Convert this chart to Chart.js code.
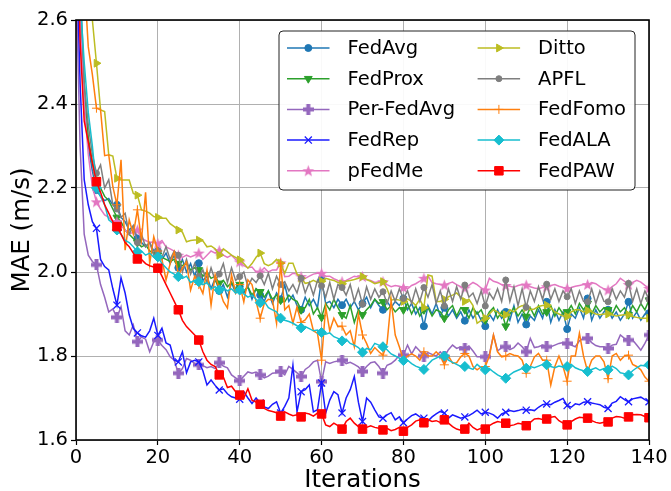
<!DOCTYPE html>
<html>
<head>
<meta charset="utf-8">
<script src="https://cdn.jsdelivr.net/npm/chart.js@4.4.1/dist/chart.umd.min.js"></script>
<style>
  html, body { margin: 0; padding: 0; background: #fff; }
</style>
</head>
<body>
<canvas id="myChart" width="671" height="491"></canvas>
<script>
const iterations = Array.from({ length: 141 }, (_, i) => i);
const xTicks = [0, 20, 40, 60, 80, 100, 120, 140];
const yTicks = [1.6, 1.8, 2.0, 2.2, 2.4, 2.6];

const fedAvg = [2.95,2.6,2.4,2.3,2.24,2.195,2.18,2.17,2.175,2.16,2.16,2.13,2.12,2.1,2.11,2.08,2.07,2.06,2.07,2.05,
  2.05,2.03,2.045,2.02,2.04,2.01,2.03,2.0,2.02,1.99,2.021,1.98,1.99,1.96,1.985,1.955,1.97,1.94,1.975,1.95,
  1.965,1.95,1.965,1.935,1.96,1.945,1.93,1.955,1.925,1.95,1.935,1.969,1.93,1.945,1.92,1.91,1.94,1.92,1.935,1.915,
  1.983,1.925,1.93,1.915,1.935,1.921,1.935,1.915,1.93,1.91,1.925,1.94,1.915,1.935,1.92,1.91,1.93,1.915,1.93,1.92,
  1.937,1.91,1.925,1.9,1.915,1.871,1.92,1.9,1.925,1.895,1.915,1.895,1.91,1.89,1.905,1.884,1.91,1.89,1.905,1.885,
  1.871,1.9,1.885,1.91,1.89,1.905,1.885,1.92,1.88,1.9,1.875,1.895,1.885,1.91,1.89,1.929,1.88,1.91,1.885,1.905,
  1.864,1.9,1.89,1.915,1.89,1.937,1.885,1.91,1.89,1.905,1.91,1.89,1.905,1.885,1.9,1.929,1.89,1.905,1.885,1.9,1.902];

const fedProx = [3.0,2.65,2.45,2.32,2.26,2.22,2.2,2.18,2.17,2.15,2.13,2.12,2.1,2.09,2.08,2.07,2.06,2.065,2.05,2.045,
  2.04,2.035,2.03,2.025,2.03,2.02,2.015,2.02,2.005,2.01,2.005,1.99,2.0,1.985,1.99,1.973,1.98,1.965,1.975,1.96,
  1.97,1.955,1.965,1.945,1.96,1.953,1.94,1.955,1.935,1.945,1.933,1.929,1.945,1.935,1.93,1.91,1.915,1.935,1.9,1.915,
  1.892,1.925,1.91,1.935,1.915,1.898,1.89,1.92,1.88,1.91,1.898,1.91,1.92,1.935,1.925,1.929,1.91,1.92,1.905,1.915,
  1.91,1.925,1.9,1.92,1.895,1.91,1.915,1.895,1.91,1.905,1.89,1.91,1.92,1.895,1.915,1.91,1.89,1.915,1.9,1.91,
  1.886,1.905,1.915,1.89,1.905,1.871,1.9,1.915,1.895,1.91,1.894,1.915,1.895,1.92,1.9,1.905,1.92,1.895,1.915,1.9,
  1.905,1.92,1.9,1.925,1.91,1.925,1.9,1.92,1.905,1.915,1.91,1.9,1.92,1.905,1.915,1.898,1.92,1.905,1.925,1.91,1.933];

const perFedAvg = [2.7,2.3,2.09,2.04,2.025,2.017,1.97,1.94,1.905,1.912,1.892,1.917,1.86,1.85,1.874,1.834,1.845,1.84,1.81,1.834,
  1.838,1.825,1.815,1.798,1.79,1.759,1.77,1.794,1.79,1.782,1.779,1.777,1.772,1.775,1.77,1.784,1.776,1.772,1.755,1.748,
  1.741,1.752,1.762,1.759,1.762,1.755,1.748,1.752,1.759,1.76,1.763,1.755,1.775,1.768,1.76,1.751,1.768,1.775,1.786,1.79,
  1.739,1.786,1.782,1.786,1.788,1.79,1.782,1.785,1.78,1.774,1.763,1.775,1.784,1.786,1.775,1.759,1.778,1.782,1.79,1.802,
  1.802,1.826,1.805,1.822,1.812,1.8,1.808,1.804,1.8,1.81,1.798,1.815,1.826,1.818,1.822,1.818,1.824,1.812,1.798,1.798,
  1.798,1.804,1.85,1.812,1.82,1.822,1.815,1.82,1.831,1.822,1.81,1.842,1.82,1.822,1.826,1.822,1.822,1.826,1.83,1.832,
  1.83,1.826,1.822,1.836,1.842,1.842,1.832,1.825,1.822,1.822,1.818,1.826,1.828,1.85,1.842,1.838,1.838,1.826,1.814,1.83,1.85];

const fedRep = [2.8,2.45,2.22,2.16,2.12,2.104,2.03,2.013,2.005,1.96,1.921,1.986,1.95,1.898,1.866,1.855,1.848,1.845,1.86,1.89,
  1.849,1.866,1.831,1.826,1.79,1.786,1.81,1.76,1.786,1.79,1.786,1.765,1.731,1.743,1.73,1.719,1.722,1.71,1.703,1.7,
  1.697,1.715,1.7,1.687,1.7,1.688,1.679,1.675,1.685,1.691,1.664,1.68,1.7,1.778,1.667,1.715,1.72,1.731,1.667,1.672,
  1.736,1.664,1.695,1.715,1.708,1.664,1.7,1.72,1.751,1.69,1.644,1.7,1.69,1.672,1.655,1.652,1.66,1.665,1.648,1.655,
  1.641,1.65,1.658,1.662,1.655,1.652,1.645,1.655,1.662,1.668,1.664,1.652,1.66,1.656,1.652,1.655,1.658,1.664,1.671,1.662,
  1.666,1.664,1.66,1.652,1.662,1.666,1.67,1.668,1.67,1.673,1.671,1.672,1.67,1.678,1.684,1.686,1.684,1.69,1.694,1.699,
  1.682,1.678,1.686,1.684,1.69,1.691,1.688,1.686,1.684,1.678,1.675,1.688,1.692,1.703,1.696,1.691,1.698,1.7,1.702,1.696,1.691];

const pFedMe = [2.9,2.6,2.4,2.28,2.203,2.167,2.15,2.136,2.13,2.12,2.12,2.11,2.1,2.09,2.095,2.1,2.08,2.075,2.07,2.072,
  2.068,2.075,2.06,2.055,2.05,2.04,2.035,2.04,2.036,2.04,2.045,2.03,2.04,2.05,2.045,2.051,2.04,2.035,2.04,2.03,
  2.024,2.015,2.01,2.012,2.0,2.0,2.01,2.0,2.005,2.005,2.022,1.989,1.99,1.997,1.995,1.989,1.985,1.99,1.995,1.997,
  1.997,1.99,1.99,1.984,1.98,1.977,1.98,1.985,1.99,1.988,1.989,1.982,1.98,1.975,1.977,1.977,1.97,1.965,1.968,1.966,
  1.963,1.96,1.968,1.972,1.978,1.985,1.99,1.975,1.972,1.97,1.969,1.973,1.976,1.97,1.965,1.962,1.968,1.975,1.97,1.962,
  1.957,1.985,1.978,1.975,1.97,1.968,1.966,1.964,1.968,1.97,1.969,1.965,1.962,1.96,1.963,1.965,1.968,1.97,1.966,1.963,
  1.961,1.963,1.966,1.968,1.97,1.97,1.975,1.972,1.965,1.96,1.957,1.965,1.972,1.985,1.978,1.97,1.975,1.98,1.976,1.968,1.961];

const ditto = [3.2,3.0,2.8,2.65,2.6,2.497,2.386,2.382,2.279,2.276,2.223,2.219,2.219,2.219,2.187,2.183,2.148,2.145,2.14,2.132,
  2.13,2.128,2.128,2.115,2.108,2.1,2.095,2.072,2.075,2.076,2.076,2.074,2.06,2.062,2.055,2.04,2.055,2.048,2.04,2.035,
  2.029,2.02,2.009,2.02,2.035,2.045,2.02,2.015,2.02,2.03,2.021,1.997,2.021,2.021,1.995,1.985,1.973,1.975,1.98,1.975,
  1.978,1.985,1.982,1.98,1.975,1.972,1.978,1.98,1.982,1.985,1.989,1.982,1.978,1.972,1.975,1.977,1.96,1.933,1.935,1.933,
  1.93,1.936,1.93,1.92,1.935,1.915,1.993,1.99,1.93,1.93,1.935,1.941,1.945,1.95,1.94,1.93,1.935,1.92,1.878,1.885,
  1.89,1.9,1.91,1.905,1.895,1.898,1.91,1.905,1.915,1.92,1.915,1.91,1.912,1.918,1.92,1.921,1.915,1.905,1.9,1.895,
  1.894,1.905,1.91,1.91,1.905,1.908,1.905,1.9,1.898,1.9,1.9,1.898,1.895,1.897,1.898,1.898,1.894,1.892,1.89,1.89,1.89];

const apfl = [3.0,2.7,2.45,2.35,2.28,2.235,2.255,2.2,2.22,2.16,2.15,2.13,2.14,2.09,2.11,2.07,2.09,2.06,2.07,2.04,
  2.05,2.035,2.06,2.03,2.05,2.04,2.0,2.03,1.995,2.02,1.989,2.005,1.975,2.01,1.98,1.995,2.02,1.975,2.01,1.98,
  1.989,2.0,1.965,1.985,1.975,1.991,1.97,1.997,1.96,1.99,1.97,1.977,1.955,1.97,1.95,1.985,1.95,1.975,1.945,1.98,
  1.967,1.94,1.975,1.935,1.97,1.963,1.945,1.97,1.93,1.96,1.923,1.965,1.935,1.96,1.94,1.953,1.925,1.955,1.93,1.96,
  1.937,1.955,1.925,1.96,1.93,1.963,1.94,1.97,1.925,1.955,1.919,1.96,1.93,1.965,1.935,1.969,1.94,1.95,1.925,1.955,
  1.919,1.95,1.935,1.96,1.93,1.981,1.93,1.965,1.92,1.96,1.916,1.955,1.93,1.965,1.935,1.971,1.935,1.96,1.93,1.955,
  1.941,1.96,1.925,1.955,1.93,1.929,1.96,1.925,1.955,1.93,1.929,1.96,1.935,1.955,1.94,1.973,1.93,1.96,1.925,1.955,1.935];

const fedFomo = [3.0,2.85,2.7,2.536,2.47,2.39,2.386,2.277,2.279,2.203,2.16,2.267,2.052,2.124,2.09,2.148,2.076,2.19,2.02,2.084,
  2.05,2.03,1.981,2.02,2.048,1.993,2.01,2.024,1.957,1.99,1.97,1.949,2.005,1.921,1.993,1.96,1.93,1.914,1.993,1.95,
  1.97,1.929,1.981,1.97,1.93,1.89,1.925,1.935,1.933,1.878,2.021,1.91,1.92,1.878,1.917,1.88,1.886,1.9,1.86,1.854,
  1.79,1.917,1.86,1.89,1.87,1.871,1.85,1.86,1.822,1.9,1.85,1.83,1.806,1.82,1.81,1.802,1.83,1.933,1.85,1.822,
  1.79,1.8,1.805,1.8,1.79,1.81,1.8,1.8,1.81,1.8,1.779,1.8,1.783,1.784,1.798,1.806,1.8,1.775,1.767,1.774,
  1.775,1.8,1.85,1.81,1.798,1.8,1.806,1.802,1.8,1.79,1.759,1.775,1.798,1.806,1.79,1.79,1.731,1.775,1.8,1.775,
  1.74,1.8,1.8,1.854,1.8,1.763,1.79,1.8,1.8,1.786,1.746,1.8,1.806,1.79,1.8,1.802,1.78,1.775,1.767,1.75,1.74];

const fedAla = [2.95,2.65,2.5,2.38,2.3,2.2,2.18,2.16,2.124,2.116,2.1,2.09,2.075,2.07,2.06,2.048,2.05,2.04,2.045,2.035,
  2.036,2.02,2.01,2.0,1.995,1.989,1.985,1.99,1.975,1.98,1.977,1.97,1.975,1.96,1.965,1.957,1.962,1.955,1.96,1.95,
  1.957,1.948,1.94,1.945,1.935,1.927,1.93,1.915,1.91,1.905,1.89,1.885,1.882,1.878,1.872,1.867,1.87,1.865,1.86,1.862,
  1.856,1.852,1.855,1.846,1.842,1.836,1.84,1.83,1.826,1.82,1.809,1.818,1.815,1.83,1.826,1.822,1.815,1.805,1.8,1.795,
  1.789,1.79,1.782,1.776,1.772,1.768,1.78,1.79,1.795,1.8,1.8,1.79,1.785,1.78,1.775,1.775,1.772,1.768,1.78,1.772,
  1.767,1.77,1.762,1.755,1.75,1.747,1.755,1.762,1.766,1.77,1.771,1.775,1.772,1.776,1.78,1.779,1.775,1.772,1.776,1.774,
  1.775,1.78,1.772,1.768,1.765,1.763,1.768,1.772,1.766,1.77,1.767,1.776,1.77,1.76,1.758,1.755,1.765,1.772,1.778,1.776,1.779];

const fedPaw = [2.95,2.55,2.36,2.31,2.26,2.215,2.19,2.16,2.14,2.12,2.108,2.09,2.07,2.06,2.045,2.031,2.03,2.02,2.015,2.012,
  2.009,1.99,1.97,1.95,1.93,1.91,1.885,1.87,1.86,1.85,1.838,1.81,1.79,1.78,1.775,1.755,1.75,1.725,1.728,1.715,
  1.707,1.7,1.722,1.695,1.69,1.685,1.675,1.67,1.668,1.665,1.657,1.667,1.662,1.658,1.66,1.655,1.664,1.662,1.657,1.664,
  1.662,1.636,1.632,1.64,1.634,1.626,1.644,1.652,1.64,1.632,1.626,1.63,1.634,1.63,1.628,1.624,1.628,1.622,1.625,1.63,
  1.621,1.63,1.636,1.645,1.648,1.641,1.648,1.644,1.646,1.642,1.648,1.64,1.632,1.626,1.623,1.626,1.64,1.63,1.624,1.628,
  1.626,1.634,1.64,1.644,1.642,1.64,1.634,1.636,1.64,1.638,1.634,1.642,1.65,1.651,1.649,1.65,1.654,1.656,1.646,1.64,
  1.636,1.644,1.65,1.654,1.653,1.652,1.646,1.642,1.64,1.642,1.643,1.652,1.656,1.655,1.652,1.655,1.66,1.661,1.66,1.656,1.653];

function markerCanvas(size, paint) {
  const c = document.createElement("canvas");
  c.width = size;
  c.height = size;
  paint(c.getContext("2d"), size);
  return c;
}

function filledPlus(color) {
  return markerCanvas(11, (g, s) => {
    g.fillStyle = color;
    g.fillRect(0, 3.5, s, 4);
    g.fillRect(3.5, 0, 4, s);
  });
}

function filledStar(color) {
  return markerCanvas(13, (g, s) => {
    g.fillStyle = color;
    g.beginPath();
    for (let k = 0; k < 10; k++) {
      const r = k % 2 === 0 ? 6.2 : 2.6;
      const a = -Math.PI / 2 + (k * Math.PI) / 5;
      const px = s / 2 + r * Math.cos(a);
      const py = s / 2 + 0.5 + r * Math.sin(a);
      if (k === 0) g.moveTo(px, py);
      else g.lineTo(px, py);
    }
    g.closePath();
    g.fill();
  });
}

const series = [
  { name: "FedAvg", values: fedAvg, color: "#1f77b4", style: "circle", radius: 3.5, rotation: 0, bw: 1 },
  { name: "FedProx", values: fedProx, color: "#2ca02c", style: "triangle", radius: 4.5, rotation: 180, bw: 1 },
  { name: "Per-FedAvg", values: perFedAvg, color: "#9467bd", style: filledPlus("#9467bd"), radius: 5, rotation: 0, bw: 0 },
  { name: "FedRep", values: fedRep, color: "#1a1aff", style: "crossRot", radius: 5, rotation: 0, bw: 1.3 },
  { name: "pFedMe", values: pFedMe, color: "#e377c2", style: filledStar("#e377c2"), radius: 5, rotation: 0, bw: 0 },
  { name: "Ditto", values: ditto, color: "#bcbd22", style: "triangle", radius: 4.5, rotation: 90, bw: 1 },
  { name: "APFL", values: apfl, color: "#7f7f7f", style: "circle", radius: 3, rotation: 0, bw: 1 },
  { name: "FedFomo", values: fedFomo, color: "#ff7f0e", style: "cross", radius: 4.5, rotation: 0, bw: 1 },
  { name: "FedALA", values: fedAla, color: "#17becf", style: "rectRot", radius: 5, rotation: 0, bw: 1 },
  { name: "FedPAW", values: fedPaw, color: "#ff0000", style: "rect", radius: 6, rotation: 0, bw: 1 },
];

const FONT = "'DejaVu Sans', sans-serif";

const frameAndLegend = {
  id: "frameAndLegend",
  afterDraw(chart) {
    const ctx = chart.ctx;
    const area = chart.chartArea;
    ctx.save();
    ctx.strokeStyle = "#000";
    ctx.lineWidth = 1.6;
    ctx.strokeRect(area.left, area.top, area.right - area.left, area.bottom - area.top);

    // legend box, two columns of five
    const bx = area.left + 203, by = area.top + 11, bw = 356, bh = 159;
    ctx.beginPath();
    ctx.roundRect(bx, by, bw, bh, 4);
    ctx.fillStyle = "rgba(255,255,255,0.92)";
    ctx.fill();
    ctx.strokeStyle = "#222";
    ctx.lineWidth = 1;
    ctx.stroke();

    ctx.font = "19.5px " + FONT;
    ctx.textBaseline = "middle";
    ctx.textAlign = "left";
    series.forEach((s, i) => {
      const col = Math.floor(i / 5);
      const row = i % 5;
      const x0 = bx + 8 + col * 190.6;
      const y = by + 17 + row * 30.7;
      ctx.strokeStyle = s.color;
      ctx.fillStyle = s.color;
      ctx.lineWidth = 1.5;
      ctx.beginPath();
      ctx.moveTo(x0, y);
      ctx.lineTo(x0 + 42.5, y);
      ctx.stroke();
      ctx.lineWidth = s.bw;
      Chart.helpers.drawPoint(ctx, {
        pointStyle: s.style, rotation: s.rotation, radius: s.radius, borderWidth: s.bw,
      }, x0 + 21.3, y);
      ctx.fillStyle = "#000";
      ctx.fillText(s.name, x0 + 60.5, y + 1);
    });
    ctx.restore();
  },
};

new Chart(document.getElementById("myChart"), {
  type: "line",
  plugins: [frameAndLegend],
  data: {
    datasets: series.map((s, i) => ({
      label: s.name,
      data: iterations.map((it, k) => ({ x: it, y: s.values[k] })),
      borderColor: s.color,
      backgroundColor: s.color,
      pointBackgroundColor: s.color,
      pointBorderColor: s.color,
      borderWidth: 1.5,
      tension: 0,
      pointStyle: s.style,
      pointRotation: s.rotation,
      pointBorderWidth: s.bw,
      pointRadius: (c) => (c.dataIndex % 5 === 0 ? s.radius : 0),
      pointHoverRadius: 0,
      order: series.length - i,
    })),
  },
  options: {
    responsive: false,
    animation: false,
    events: [],
    layout: { padding: { top: 20, right: 22, left: 0, bottom: 0 } },
    plugins: {
      legend: { display: false },
      tooltip: { enabled: false },
    },
    scales: {
      x: {
        type: "linear",
        min: 0,
        max: 140,
        afterBuildTicks: (scale) => { scale.ticks = xTicks.map((v) => ({ value: v })); },
        afterFit: (scale) => { scale.height = 51; },
        grid: { color: "#b0b0b0", lineWidth: 1, tickColor: "#000", tickLength: 5, tickWidth: 1.2 },
        border: { display: false },
        ticks: { color: "#000", font: { family: FONT, size: 19.5 }, padding: 1, maxRotation: 0, autoSkip: false },
        title: { display: true, text: "Iterations", color: "#000", font: { family: FONT, size: 24.5, lineHeight: 0.82 }, padding: { top: 0, bottom: 0 } },
      },
      y: {
        min: 1.6,
        max: 2.6,
        afterBuildTicks: (scale) => { scale.ticks = yTicks.map((v) => ({ value: v })); },
        afterFit: (scale) => { scale.width = 76; },
        grid: { color: "#b0b0b0", lineWidth: 1, tickColor: "#000", tickLength: 5, tickWidth: 1.2 },
        border: { display: false },
        ticks: { color: "#000", font: { family: FONT, size: 19.5 }, padding: 3, callback: (v) => v.toFixed(1) },
        title: { display: true, text: "MAE (m/s)", color: "#000", font: { family: FONT, size: 24.5 }, padding: { top: 8, bottom: 0 } },
      },
    },
  },
});
</script>
</body>
</html>
